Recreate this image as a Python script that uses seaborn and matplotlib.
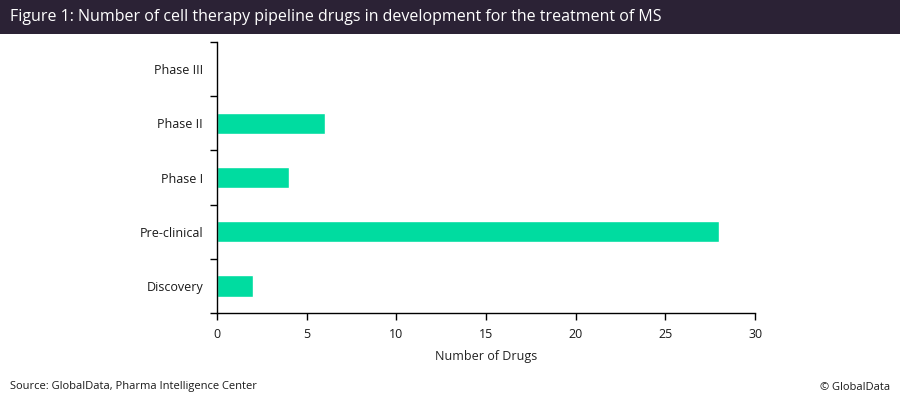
import matplotlib
matplotlib.use("Agg")
import matplotlib.pyplot as plt
from matplotlib.ticker import FixedLocator
import seaborn as sns
import pandas as pd

PHASES = ['Phase III', 'Phase II', 'Phase I', 'Pre-clinical', 'Discovery']
DRUG_COUNTS = [0, 6, 4, 28, 2]
X_TICKS = [0, 5, 10, 15, 20, 25, 30]

TITLE = 'Figure 1: Number of cell therapy pipeline drugs in development for the treatment of MS'
SOURCE = 'Source: GlobalData, Pharma Intelligence Center'
COPYRIGHT = '\u00a9 GlobalData'

sns.set_style('white')
plt.rcParams['font.family'] = ['Open Sans', 'DejaVu Sans']

df = pd.DataFrame({'Phase': PHASES, 'Drugs': DRUG_COUNTS})

fig = plt.figure(figsize=(9, 4.04), dpi=100)
ax = fig.add_axes([0.241, 0.225, 0.598, 0.671])

sns.barplot(data=df, y='Phase', x='Drugs', order=PHASES, color='#00DCA0',
            saturation=1, width=0.39, ax=ax)

ax.set_xlim(0, 30)
ax.set_ylim(len(PHASES) - 0.5, -0.5)
ax.set_xticks(X_TICKS)
ax.set_xlabel('Number of Drugs', fontsize=9, color='#222222', labelpad=6)
ax.set_ylabel('')

# category ticks sit between bars
ax.yaxis.set_major_locator(FixedLocator(range(len(PHASES))))
ax.set_yticklabels(PHASES)
ax.yaxis.set_minor_locator(FixedLocator([i - 0.5 for i in range(len(PHASES) + 1)]))
ax.tick_params(axis='y', which='major', length=0, pad=10, labelsize=9, labelcolor='#1a1a1a')
ax.tick_params(axis='y', which='minor', length=5, width=1, color='black', direction='out', left=True)
ax.tick_params(axis='x', which='major', length=5, width=1, color='black', direction='out',
               bottom=True, labelsize=9, labelcolor='#1a1a1a', pad=6)

for side in ['top', 'right']:
    ax.spines[side].set_visible(False)
for side in ['left', 'bottom']:
    ax.spines[side].set_color('black')
    ax.spines[side].set_linewidth(1)

# title banner
fig.patches.append(plt.Rectangle((0, 1 - 34 / 404), 1, 34 / 404, transform=fig.transFigure,
                                 facecolor='#2B2235', edgecolor='none'))
fig.text(10 / 900, 1 - 17 / 404, TITLE, color='white', fontsize=11.5, va='center', ha='left')

fig.text(10 / 900, 1 - 387 / 404, SOURCE, fontsize=8, color='#1a1a1a', va='center', ha='left')
fig.text(890 / 900, 1 - 387 / 404, COPYRIGHT, fontsize=8, color='#1a1a1a', va='center', ha='right')

fig.savefig('out.png', dpi=100, facecolor='white')
